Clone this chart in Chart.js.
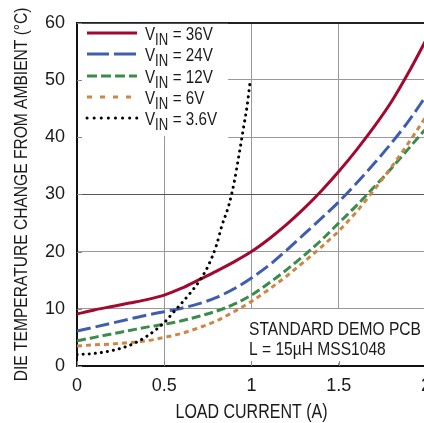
<!DOCTYPE html>
<html>
<head>
<meta charset="utf-8">
<script src="https://cdn.jsdelivr.net/npm/chart.js@4"></script>
<style>
  html, body { margin: 0; padding: 0; background: #fff; overflow: hidden; }
  #wrap { position: relative; width: 440px; height: 423px; }
</style>
</head>
<body>
<div id="wrap"><canvas id="chart" width="440" height="423"></canvas></div>
<script>
// load current (A) shared by the 36V / 24V / 12V / 6V curves
const loadCurrent = [0, 0.1, 0.2, 0.3, 0.4, 0.5, 0.6, 0.7, 0.8, 0.9, 1.0,
  1.1, 1.2, 1.3, 1.4, 1.5, 1.6, 1.7, 1.8, 1.9, 2.0];
const vin36 = [9.1, 9.8, 10.4, 11.0, 11.6, 12.4, 13.6, 15.1, 16.6, 18.2, 20.0,
  22.2, 24.7, 27.5, 30.6, 34.0, 37.7, 41.7, 46.1, 51.3, 57.0];
const vin24 = [6.1, 6.8, 7.5, 8.2, 8.9, 9.5, 10.1, 10.9, 12.0, 13.5, 15.4,
  17.6, 20.2, 23.0, 25.8, 28.7, 31.9, 35.3, 38.9, 42.8, 47.2];
const vin12 = [4.4, 5.0, 5.6, 6.2, 6.8, 7.3, 7.9, 8.7, 9.6, 10.8, 12.4,
  14.5, 16.8, 19.3, 22.0, 25.0, 28.0, 31.2, 34.5, 38.0, 41.5];
const vin6 = [3.5, 3.7, 3.85, 4.1, 4.4, 5.0, 5.7, 6.7, 7.9, 9.5, 11.3,
  13.4, 15.7, 18.2, 20.8, 23.6, 26.9, 30.7, 34.7, 39.0, 43.6];
// the 3.6V curve stops near 1A
const loadCurrent36 = [0, 0.1, 0.2, 0.3, 0.4, 0.5, 0.55, 0.6, 0.65, 0.7, 0.75,
  0.8, 0.83, 0.87, 0.9, 0.93, 0.955, 0.975, 0.99];
const vin3v6 = [2.0, 2.2, 2.7, 3.6, 5.2, 7.6, 9.3, 11.0, 12.8, 14.8, 17.4,
  21.2, 24.5, 28.1, 32.0, 37.2, 41.8, 45.5, 49.2];

const xTicks = [0, 0.5, 1, 1.5, 2];
const yTicks = [0, 10, 20, 30, 40, 50, 60];
const legendLabels = ["36V", "24V", "12V", "6V", "3.6V"];
const noteLines = ["STANDARD DEMO PCB", "L = 15\u00B5H MSS1048"];
const xTitle = "LOAD CURRENT (A)";
const yTitle = "DIE TEMPERATURE CHANGE FROM AMBIENT (\u00B0C)";

const FONT = '"Liberation Sans", Arial, sans-serif';
const NARROW = 0.82; // the original uses a condensed face
Chart.defaults.font.family = FONT;
Chart.defaults.color = "#1a1a1a";

const colors = {
  v36: "#a3082f",
  v24: "#3f5fae",
  v12: "#3b8b4b",
  v6: "#cc8646",
  v3: "#000000",
};

function pts(xs, ys) {
  return xs.map((x, i) => ({ x: x, y: ys[i] }));
}

const series = [
  { label: legendLabels[0], data: pts(loadCurrent, vin36), color: colors.v36, dash: [], legendDash: [], width: 3, order: 5 },
  { label: legendLabels[1], data: pts(loadCurrent, vin24), color: colors.v24, dash: [14, 5], legendDash: [22, 5], width: 3, order: 4 },
  { label: legendLabels[2], data: pts(loadCurrent, vin12), color: colors.v12, dash: [9, 4], legendDash: [10, 4], width: 3, order: 3 },
  { label: legendLabels[3], data: pts(loadCurrent, vin6), color: colors.v6, dash: [5, 4], legendDash: [5, 8], width: 3, order: 2 },
  { label: legendLabels[4], data: pts(loadCurrent36, vin3v6), color: colors.v3, dash: [0.1, 6], legendDash: [0.1, 7], width: 3, order: 1, round: true },
];

// draws condensed text: returns advance width
function narrowText(ctx, text, x, y, size, align, angle) {
  ctx.save();
  ctx.font = size + "px " + FONT;
  ctx.textAlign = align || "left";
  ctx.textBaseline = "alphabetic";
  ctx.translate(x, y);
  if (angle) ctx.rotate(angle);
  ctx.scale(NARROW, 1);
  ctx.fillText(text, 0, 0);
  const w = ctx.measureText(text).width * NARROW;
  ctx.restore();
  return w;
}

// white boxes behind legend / note, short inward ticks, then legend, note and axis titles
const overlay = {
  id: "overlay",
  beforeDatasetsDraw(chart) {
    const ctx = chart.ctx;
    const xs = chart.scales.x;
    const ys = chart.scales.y;
    ctx.save();
    ctx.fillStyle = "#fff";
    ctx.fillRect(xs.left + 1, ys.top + 1, 150, 112);
    ctx.fillRect(xs.left + 1, ys.getPixelForValue(40) - 2, 86, 4);
    ctx.fillRect(xs.getPixelForValue(0.5) + 1, ys.getPixelForValue(40) - 2, 63, 4);
    ctx.fillRect(245, 309, 200, 54);
    ctx.strokeStyle = "#888";
    ctx.lineWidth = 1;
    yTicks.forEach((v) => {
      const y = Math.round(ys.getPixelForValue(v)) + 0.5;
      ctx.beginPath();
      ctx.moveTo(xs.left, y);
      ctx.lineTo(xs.left + 5, y);
      ctx.stroke();
    });
    xTicks.forEach((v) => {
      const x = Math.round(xs.getPixelForValue(v)) + 0.5;
      ctx.beginPath();
      ctx.moveTo(x, ys.bottom);
      ctx.lineTo(x, ys.bottom - 5);
      ctx.stroke();
    });
    ctx.restore();
  },
  afterDraw(chart) {
    const ctx = chart.ctx;
    const xs = chart.scales.x;
    const ys = chart.scales.y;
    ctx.save();
    ctx.fillStyle = "#1a1a1a";
    const rows = [33, 54, 76, 97, 118];
    series.forEach((s, i) => {
      const y = rows[i];
      ctx.strokeStyle = s.color;
      ctx.lineWidth = s.width;
      ctx.lineCap = s.round ? "round" : "butt";
      ctx.setLineDash(s.legendDash);
      ctx.beginPath();
      ctx.moveTo(87, y);
      ctx.lineTo(137, y);
      ctx.stroke();
      ctx.setLineDash([]);

      let x = 145;
      x += narrowText(ctx, "V", x, y + 6.5, 18.5);
      x += narrowText(ctx, "IN", x, y + 11.5, 16) + 4.5;
      narrowText(ctx, "= " + s.label, x, y + 6.5, 18.5);
    });
    narrowText(ctx, noteLines[0], 249, 335, 19);
    narrowText(ctx, noteLines[1], 249, 355, 19);

    const midX = (xs.getPixelForValue(0) + xs.getPixelForValue(2)) / 2;
    narrowText(ctx, xTitle, midX, 418, 19.5, "center");
    const midY = (ys.top + ys.bottom) / 2;
    narrowText(ctx, yTitle, 27, midY, 19, "center", -Math.PI / 2);
    ctx.restore();
  },
};

new Chart(document.getElementById("chart"), {
  type: "line",
  data: {
    datasets: series.map((s) => ({
      label: s.label,
      data: s.data,
      borderColor: s.color,
      borderWidth: s.width,
      borderDash: s.dash,
      borderCapStyle: s.round ? "round" : "butt",
      pointRadius: 0,
      fill: false,
      cubicInterpolationMode: "monotone",
      order: s.order,
    })),
  },
  options: {
    responsive: false,
    animation: false,
    devicePixelRatio: 1,
    layout: { padding: { top: 15, right: 12, left: 0, bottom: 0 } },
    plugins: { legend: { display: false }, tooltip: { enabled: false } },
    scales: {
      x: {
        type: "linear",
        min: 0,
        max: 2,
        afterFit: (s) => { s.height = 57; },
        afterBuildTicks: (s) => { s.ticks = xTicks.map((v) => ({ value: v })); },
        ticks: {
          padding: 9,
          font: { size: 18 },
          color: "#1a1a1a",
          callback: (v) => String(v),
        },
        grid: { color: "#999", lineWidth: 1, drawTicks: false },
        border: { color: "#111", width: 2 },
        title: { display: false, text: xTitle },
      },
      y: {
        min: 0,
        max: 60,
        afterFit: (s) => { s.width = 77; },
        afterBuildTicks: (s) => { s.ticks = yTicks.map((v) => ({ value: v })); },
        ticks: { padding: 12, font: { size: 18 }, color: "#1a1a1a" },
        grid: {
          color: (c) => (c.tick && c.tick.value === 60 ? "#222" : c.tick && c.tick.value === 30 ? "#555" : "#999"),
          lineWidth: (c) => (c.tick && c.tick.value === 60 ? 2 : 1),
          drawTicks: false,
        },
        border: { color: "#111", width: 2 },
        title: { display: false, text: yTitle },
      },
    },
  },
  plugins: [overlay],
});
</script>
</body>
</html>
